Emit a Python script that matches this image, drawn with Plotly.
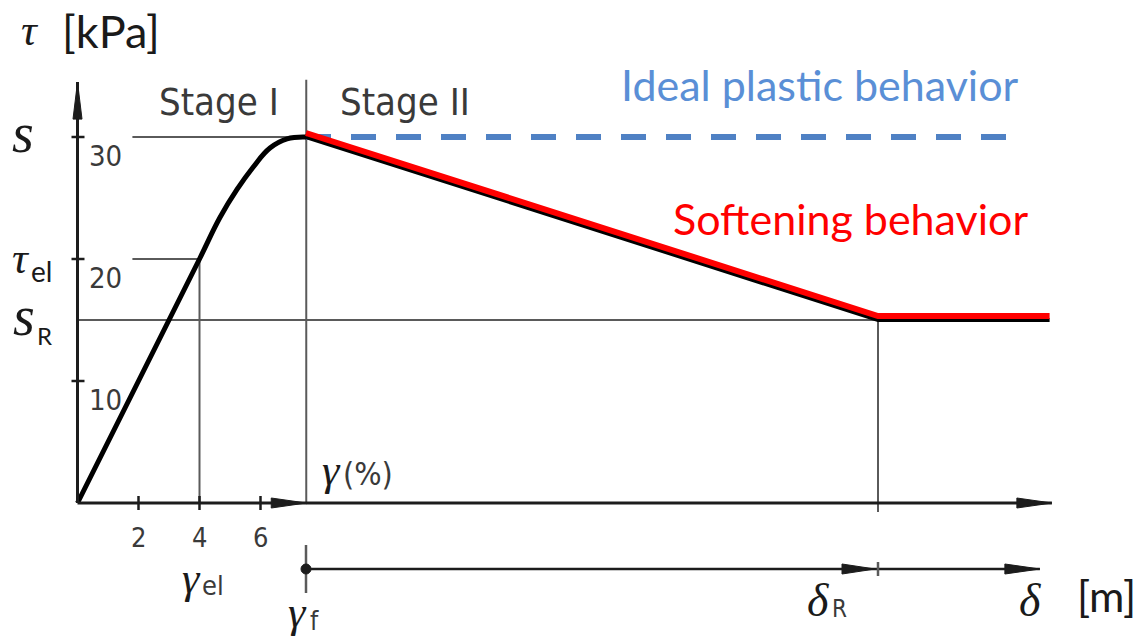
import plotly.graph_objects as go

W, H = 1145, 639

# ---- data -------------------------------------------------------------
# Stage I: shear stress vs shear strain (γ in %, τ in kPa)
gamma_stage1 = [0, 2, 4, 4.67, 5.23, 5.75, 6.31, 6.87, 7.5]
tau_stage1 = [0, 10, 20, 23.4, 25.7, 27.5, 29.1, 29.85, 30]

# Stage II: shear stress vs displacement δ (δ measured from γf, δR = 1)
delta_soft = [0, 1.0, 1.30]
tau_soft = [30, 15, 15]

delta_plastic = [0, 1.245]
tau_plastic = [30, 30]

S_PEAK = 30        # s
TAU_EL = 20        # τel
S_RES = 15         # sR
GAMMA_EL = 4       # γel
GAMMA_F = 7.5      # γf
DELTA_R = 1.0      # δR

gamma_ticks = [2, 4, 6]
tau_ticks = [10, 20, 30]

# ---- scales (pixel layout of the drawing) ------------------------------
GX0, GPX = 77.5, 30.5     # γ = 0 position and px per %
DX0, DPX = 306.0, 572.0   # δ = 0 position and px per δR
TY0, TPX = 503.0, 12.2    # τ = 0 position and px per kPa

x_range = [(0 - GX0) / GPX, (W - GX0) / GPX]
x2_range = [(0 - DX0) / DPX, (W - DX0) / DPX]
y_range = [(TY0 - H) / TPX, TY0 / TPX]

TAU_TOP = 34.5        # top of τ axis
STAGE_TOP = 34.7      # top of stage separator
LEADER_START = 1.8    # γ where the τ leader lines begin
DELTA_END = 1.304     # end of main horizontal axis (in δ)
DELTA_AX_END = 1.283  # end of δ axis
DELTA_ROW = 1 - 569 / H   # paper y of the δ axis
RED_LIFT = 4 / TPX    # red overlay drawn slightly above the black curve


def px(x):
    return x / W


def py(y):
    return 1 - y / H


AX = "#1c1c1c"
THIN = "#5a5a5a"

fig = go.Figure()

fig.add_trace(go.Scatter(x=gamma_stage1, y=tau_stage1, mode="lines",
                         line=dict(color="black", width=5, shape="spline", smoothing=1.2),
                         hoverinfo="skip"))
fig.add_trace(go.Scatter(x=delta_plastic, y=tau_plastic, xaxis="x2", mode="lines",
                         line=dict(color="#4f81c4", width=6, dash="25px,20px"),
                         hoverinfo="skip"))
fig.add_trace(go.Scatter(x=delta_soft, y=tau_soft, xaxis="x2", mode="lines",
                         line=dict(color="black", width=4),
                         hoverinfo="skip"))
fig.add_trace(go.Scatter(x=delta_soft, y=[t + RED_LIFT for t in tau_soft], xaxis="x2",
                         mode="lines", line=dict(color="#ff0000", width=6),
                         hoverinfo="skip"))

shapes = []


def seg(xref, x0, x1, y0, y1, color=THIN, width=2, layer="below", yref="y"):
    shapes.append(dict(type="line", xref=xref, yref=yref, x0=x0, x1=x1, y0=y0, y1=y1,
                       line=dict(color=color, width=width), layer=layer))


def vtick(xref, xv, yv, lo, hi, yref="y", width=2.5, color=AX):
    shapes.append(dict(type="line", xref=xref, yref=yref, ysizemode="pixel", yanchor=yv,
                       x0=xv, x1=xv, y0=lo, y1=hi, line=dict(color=color, width=width)))


def htick(yv, lo, hi):
    shapes.append(dict(type="line", xref="x", yref="y", xsizemode="pixel", xanchor=0,
                       x0=lo, x1=hi, y0=yv, y1=yv, line=dict(color=AX, width=2.5)))


def arrow_head(xref, xv, yv, path, yref="y"):
    shapes.append(dict(type="path", xref=xref, yref=yref, xsizemode="pixel",
                       ysizemode="pixel", xanchor=xv, yanchor=yv, path=path,
                       fillcolor=AX, line=dict(color=AX, width=1)))


RIGHT = "M0,0 L-35,5 L-35,-5 Z"

# τ axis
seg("x", 0, 0, 0, TAU_TOP, color=AX, width=3, layer="above")
arrow_head("x", 0, TAU_TOP, "M0,0 L-4.5,-37 L4.5,-37 Z")
for t in tau_ticks:
    htick(t, -6, 7)

# leader lines and reference lines
seg("x", LEADER_START, GAMMA_F, S_PEAK, S_PEAK)
seg("x", LEADER_START, GAMMA_EL, TAU_EL, TAU_EL)
seg("x", 0, GAMMA_F, S_RES, S_RES)
seg("x2", 0, DELTA_R, S_RES, S_RES)
seg("x", GAMMA_EL, GAMMA_EL, 0, TAU_EL)
seg("x", GAMMA_F, GAMMA_F, 0, STAGE_TOP)
seg("x2", DELTA_R, DELTA_R, 0, S_RES)
vtick("x2", DELTA_R, 0, -9, 0, color=THIN, width=2)

# γ axis (Stage I) and its continuation
seg("x", 0, GAMMA_F, 0, 0, color=AX, width=3, layer="above")
arrow_head("x", GAMMA_F, 0, RIGHT)
for g in gamma_ticks:
    vtick("x", g, 0, -7, 7)
seg("x2", 0, DELTA_END, 0, 0, color=AX, width=3, layer="above")
arrow_head("x2", DELTA_END, 0, RIGHT)

# δ axis
seg("x2", 0, DELTA_AX_END, DELTA_ROW, DELTA_ROW, color=AX, width=2.5, layer="above", yref="paper")
arrow_head("x2", DELTA_AX_END, DELTA_ROW, RIGHT, yref="paper")
arrow_head("x2", DELTA_R, DELTA_ROW, "M-3,0 L-36,5 L-36,-5 Z", yref="paper")
vtick("x2", 0, DELTA_ROW, -24, 24, yref="paper", color=THIN)
vtick("x2", DELTA_R, DELTA_ROW, -7, 7, yref="paper", color=THIN)
shapes.append(dict(type="circle", xref="x2", yref="paper", xsizemode="pixel",
                   ysizemode="pixel", xanchor=0, yanchor=DELTA_ROW,
                   x0=-5, x1=5, y0=-5, y1=5, fillcolor=AX, line=dict(color=AX, width=1)))

# ---- text -------------------------------------------------------------
MATH = "Liberation Serif"
ISO = "DejaVu Sans Condensed, DejaVu Sans"
SANS = "Lato"
annotations = []


def label(text, x, y, size, family, color="#1a1a1a", italic=False):
    annotations.append(dict(text=f"<i>{text}</i>" if italic else text,
                            x=px(x), y=py(y), xref="paper", yref="paper",
                            showarrow=False, xanchor="center", yanchor="middle",
                            font=dict(family=family, size=size, color=color)))


def tick_label(text, xref, xv, yv, dx, dy, size=29):
    annotations.append(dict(text=text, x=xv, y=yv, xref=xref, yref="y",
                            xshift=dx, yshift=dy, showarrow=False,
                            font=dict(family=ISO, size=size, color="#3a3a3a")))


for t in tau_ticks:
    tick_label(str(t), "x", 0, t, 28, -19)
for g in gamma_ticks:
    tick_label(str(g), "x", g, 0, 0, -34, size=27)

label("τ", 30, 30, 44, MATH, italic=True)
label("[kPa]", 111, 31, 45, SANS)
label("s", 23, 133, 56, MATH, italic=True)
label("τ", 21, 258, 44, MATH, italic=True)
label("el", 42, 271, 28, SANS)
label("s", 24, 316, 56, MATH, italic=True)
label("R", 44, 335, 24, SANS)

label("Stage I", 219, 102, 38, ISO, color="#3a3a3a")
label("Stage II", 405, 102, 38, ISO, color="#3a3a3a")
label("Ideal plastic behavior", 820, 84, 43, SANS, color="#5a8fd6")
label("Softening behavior", 850, 218, 43, SANS, color="#ff0000")

label("γ", 331, 470, 44, MATH, italic=True)
label("(%)", 368, 474, 32, ISO, color="#3a3a3a")
label("γ", 191, 578, 44, MATH, italic=True)
label("el", 213, 585, 27, ISO, color="#3a3a3a")
label("γ", 298, 612, 44, MATH, italic=True)
label("f", 314, 621, 26, ISO, color="#3a3a3a")
label("δ", 818, 600, 46, MATH, italic=True)
label("R", 839, 609, 24, ISO, color="#3a3a3a")
label("δ", 1030, 600, 46, MATH, italic=True)
label("[m]", 1106, 595, 43, SANS)

fig.update_layout(
    width=W, height=H,
    margin=dict(l=0, r=0, t=0, b=0),
    paper_bgcolor="white", plot_bgcolor="white",
    showlegend=False,
    xaxis=dict(range=x_range, visible=False, fixedrange=True),
    xaxis2=dict(range=x2_range, visible=False, overlaying="x", fixedrange=True),
    yaxis=dict(range=y_range, visible=False, fixedrange=True),
    shapes=shapes,
    annotations=annotations,
)

fig.write_html("out.html", config=dict(displayModeBar=False))
